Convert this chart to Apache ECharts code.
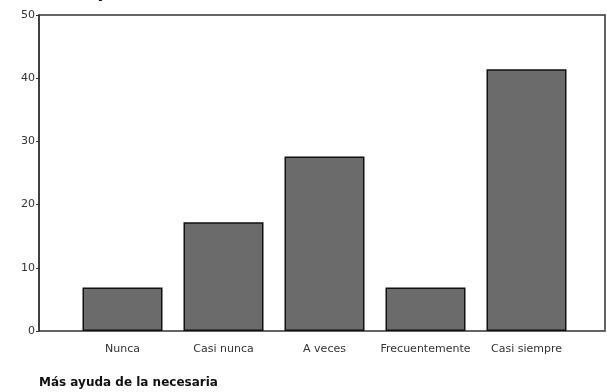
<!DOCTYPE html>
<html>
<head>
<meta charset="utf-8">
<script src="https://cdn.jsdelivr.net/npm/echarts@6/dist/echarts.min.js"></script>
<style>
	html, body { margin: 0; padding: 0; background: #fff; }
	#chart { width: 607px; height: 392px; }
</style>
</head>
<body>
<div id="chart"></div>
<script>
"use strict";

const categories = ["Nunca", "Casi nunca", "A veces", "Frecuentemente", "Casi siempre"];
const percents = [6.9, 17.2, 27.6, 6.9, 41.4];
const yTicks = [0, 10, 20, 30, 40, 50];
const caption = "Más ayuda de la necesaria";

const font = "DejaVu Sans";
const chart = echarts.init(document.getElementById("chart"), null, { renderer: "canvas" });

chart.setOption({
	animation: false,
	backgroundColor: "#fff",
	grid: [
		// frame and y axis
		{ left: 39, right: 2, top: 15, bottom: 61, show: true, borderColor: "#333", borderWidth: 1.5 },
		// bars, the category band does not fill the frame
		{ left: 72, right: 30, top: 15, bottom: 61 }
	],
	xAxis: [
		{ gridIndex: 0, type: "value", min: 0, max: 1, show: false },
		{
			gridIndex: 1,
			type: "category",
			data: categories,
			axisLine: { show: false },
			axisTick: { alignWithLabel: true, length: 4, lineStyle: { color: "#333" } },
			axisLabel: { color: "#333", fontFamily: font, fontSize: 11, margin: 13, interval: 0 }
		}
	],
	yAxis: [
		{
			gridIndex: 0,
			type: "value",
			min: yTicks[0],
			max: yTicks[yTicks.length - 1],
			interval: 10,
			axisLine: { show: true, lineStyle: { color: "#333", width: 1.5 } },
			axisTick: { show: true, length: 3, lineStyle: { color: "#333" } },
			axisLabel: { color: "#333", fontFamily: font, fontSize: 11, margin: 4 },
			splitLine: { show: false }
		},
		{ gridIndex: 1, type: "value", min: 0, max: 50, show: false }
	],
	series: [{
		type: "bar",
		xAxisIndex: 1,
		yAxisIndex: 1,
		data: percents,
		barWidth: 80,
		itemStyle: { color: "#6b6b6b", borderColor: "#111", borderWidth: 1.5 }
	}],
	graphic: [
		{
			type: "text",
			left: 39,
			top: 377,
			style: { text: caption, font: "bold 12px 'DejaVu Sans'", fill: "#111" }
		},
		{
			// title above the chart, cut off by the picture edge
			type: "text",
			x: 52,
			y: -13,
			style: { text: caption, font: "bold 14px 'DejaVu Sans'", fill: "#111", verticalAlign: "top" }
		}
	]
});
</script>
</body>
</html>
